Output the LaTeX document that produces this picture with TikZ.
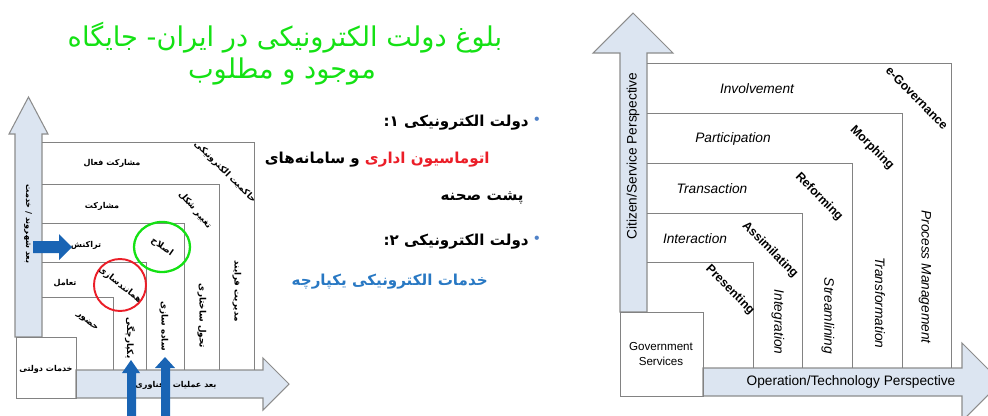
\documentclass[tikz,border=0pt]{standalone}
\usepackage{fontspec}
\usetikzlibrary{positioning}
\setmainfont{Liberation Sans}
\newfontfamily\fa[Script=Arabic]{DejaVu Sans}
\TeXXeTstate=1
\definecolor{axisfill}{RGB}{220,229,241}
\definecolor{axisline}{RGB}{140,140,140}
\definecolor{boxline}{RGB}{130,130,130}
\definecolor{titlegreen}{RGB}{20,225,20}
\definecolor{pushblue}{RGB}{25,100,180}
\definecolor{bulletblue}{RGB}{80,130,200}
\definecolor{textblue}{RGB}{40,120,195}
\definecolor{textred}{RGB}{235,30,40}
\newcommand{\rtl}[1]{\beginR #1\endR}
\tikzset{
    axis/.style = {draw = axisline, fill = axisfill, line width = 0.6pt},
    frame/.style = {draw = boxline, line width = 0.5pt},
    pusharrow/.style = {fill = pushblue},
    fatitle/.style = {font = \fa\fontsize{15.5}{18}\selectfont, text = titlegreen},
    faitem/.style = {font = \fa\bfseries\fontsize{8.6}{11}\selectfont, anchor = east, inner sep = 0pt},
    falab/.style = {font = \fa\bfseries\fontsize{4.6}{6}\selectfont, inner sep = 0pt},
    fabold/.style = {font = \fa\bfseries\fontsize{5}{6}\selectfont, inner sep = 0pt},
    enstage/.style = {font = \itshape\fontsize{7.8}{9}\selectfont, inner sep = 0pt},
    enstep/.style = {font = \bfseries\fontsize{7}{8}\selectfont, inner sep = 0pt, rotate = -45},
    enaxis/.style = {font = \fontsize{7.8}{9}\selectfont, inner sep = 0pt}
}
\begin{document}
\begin{tikzpicture}[x = 0.02cm, y = -0.02cm]
    \useasboundingbox (0,0) rectangle (988,416);
    \clip (0,0) rectangle (988,416);
    % title and bullets
    \node[fatitle] (title1) at (285,38) {\rtl{بلوغ دولت الکترونیکی در ایران- جایگاه}};
    \node[fatitle] (title2) at (282,71) {\rtl{موجود و مطلوب}};
    \node[text = bulletblue, font = \fontsize{9}{10}\selectfont] (dot1) at (537,121) {•};
    \node[faitem] (item1) at (529,123) {\rtl{دولت الکترونیکی ۱:}};
    \node[faitem, text = textred] (autom) at (490,160) {\rtl{اتوماسیون اداری}};
    \node[faitem, left = 2.5pt of autom] (item1a) {\rtl{و سامانه‌های}};
    \node[faitem] (item1b) at (524,198) {\rtl{پشت صحنه}};
    \node[text = bulletblue, font = \fontsize{9}{10}\selectfont] (dot2) at (537,240) {•};
    \node[faitem] (item2) at (529,242) {\rtl{دولت الکترونیکی ۲:}};
    \node[faitem, text = textblue] (item2a) at (488,282) {\rtl{خدمات الکترونیکی یکپارچه}};
    % left diagram
    \draw[axis] (15,337) -- (15,134) -- (9,134) -- (28.5,97) -- (48,134) -- (42,134) -- (42,337) -- cycle;
    \draw[axis] (76,370) -- (263,370) -- (263,358) -- (289,384) -- (263,410) -- (263,398) -- (76,398) -- cycle;
    \draw[frame] (16,337) rectangle (76,398);
    \foreach \t/\r in {142/254, 184/219, 223/184, 262/146, 297/113}
        \draw[frame] (42,\t) -- (\r,\t) -- (\r,370);
    \begin{scope}[every node/.append style = {falab}]
        \node (faInvolve) at (112,163) {\rtl{مشارکت فعال}};
        \node (faPartic) at (102,206) {\rtl{مشارکت}};
        \node (faTrans) at (86,245) {\rtl{تراکنش}};
        \node (faInter) at (65,283) {\rtl{تعامل}};
        \node (faGov) at (46,369) {\rtl{خدمات دولتی}};
        \node[rotate = -90] (faVaxis) at (28,224) {\rtl{بعد شهروند / خدمت}};
        \node (faHaxis) at (176,385) {\rtl{بعد عملیات / فناوری}};
    \end{scope}
    \begin{scope}[every node/.append style = {fabold}]
        \node[rotate = -45] (faEgov) at (225,172) {\rtl{حاکمیت الکترونیکی}};
        \node[rotate = -50] (faMorph) at (195,210) {\rtl{تغییر شکل}};
        \node[rotate = -35] (faReform) at (162,247) {\rtl{اصلاح}};
        \node[rotate = -38] (faAssim) at (120,285) {\rtl{همانندسازی}};
        \node[rotate = -40] (faPresent) at (87,322) {\rtl{حضور}};
        \node[rotate = -90] (faIntegr) at (130,338) {\rtl{یکپارچگی}};
        \node[rotate = -90] (faStream) at (164,326) {\rtl{ساده سازی}};
        \node[rotate = -90] (faTransf) at (202,316) {\rtl{تحول ساختاری}};
        \node[rotate = -90] (faProcess) at (237,291) {\rtl{مدیریت فرایند}};
    \end{scope}
    \draw[titlegreen, line width = 1.3pt] (faReform) ellipse [x radius = 28, y radius = 25];
    \draw[textred, line width = 1.1pt] (faAssim) circle [radius = 26];
    \fill[pusharrow] (33,241) -- (59,241) -- (59,234) -- (72,247) -- (59,260) -- (59,253) -- (33,253) -- cycle;
    \fill[pusharrow] (127,420) -- (127,373) -- (122,373) -- (131,360) -- (140,373) -- (136,373) -- (136,420) -- cycle;
    \fill[pusharrow] (161,420) -- (161,368) -- (155,368) -- (165,357) -- (175,368) -- (170,368) -- (170,420) -- cycle;
    % right diagram
    \draw[axis] (620,312) -- (620,53) -- (593,53) -- (633,13) -- (673,53) -- (647,53) -- (647,312) -- cycle;
    \draw[axis] (703,368) -- (962,368) -- (962,343) -- (1001,382) -- (962,421) -- (962,396) -- (703,396) -- cycle;
    \draw[frame] (620,312) rectangle (703,396);
    \foreach \t/\r in {63/951, 113/902, 163/852, 213/802, 262/753}
        \draw[frame] (647,\t) -- (\r,\t) -- (\r,368);
    \node[enstage] (involve) at (757,89) {Involvement};
    \node[enstage] (partic) at (733,139) {Participation};
    \node[enstage] (trans) at (712,189) {Transaction};
    \node[enstage] (inter) at (695,239) {Interaction};
    \node[enstep] (egov) at (917,98) {e-Governance};
    \node[enstep] (morph) at (872,148) {Morphing};
    \node[enstep] (reform) at (819,197) {Reforming};
    \node[enstep] (assim) at (770,250) {Assimilating};
    \node[enstep] (present) at (730,290) {Presenting};
    \node[enstage, rotate = -90] (integr) at (778,322) {Integration};
    \node[enstage, rotate = -90] (stream) at (828,316) {Streamlining};
    \node[enstage, rotate = -90] (transf) at (880,303) {Transformation};
    \node[enstage, rotate = -90] (process) at (925,277) {Process Management};
    \node[enaxis, rotate = 90] (vaxis) at (633,156) {Citizen/Service Perspective};
    \node[enaxis] (haxis) at (851,382) {Operation/Technology Perspective};
    \node[font = \fontsize{6.6}{8}\selectfont, align = center, inner sep = 0pt] (govserv) at (661,354) {Government\\Services};
\end{tikzpicture}
\end{document}
